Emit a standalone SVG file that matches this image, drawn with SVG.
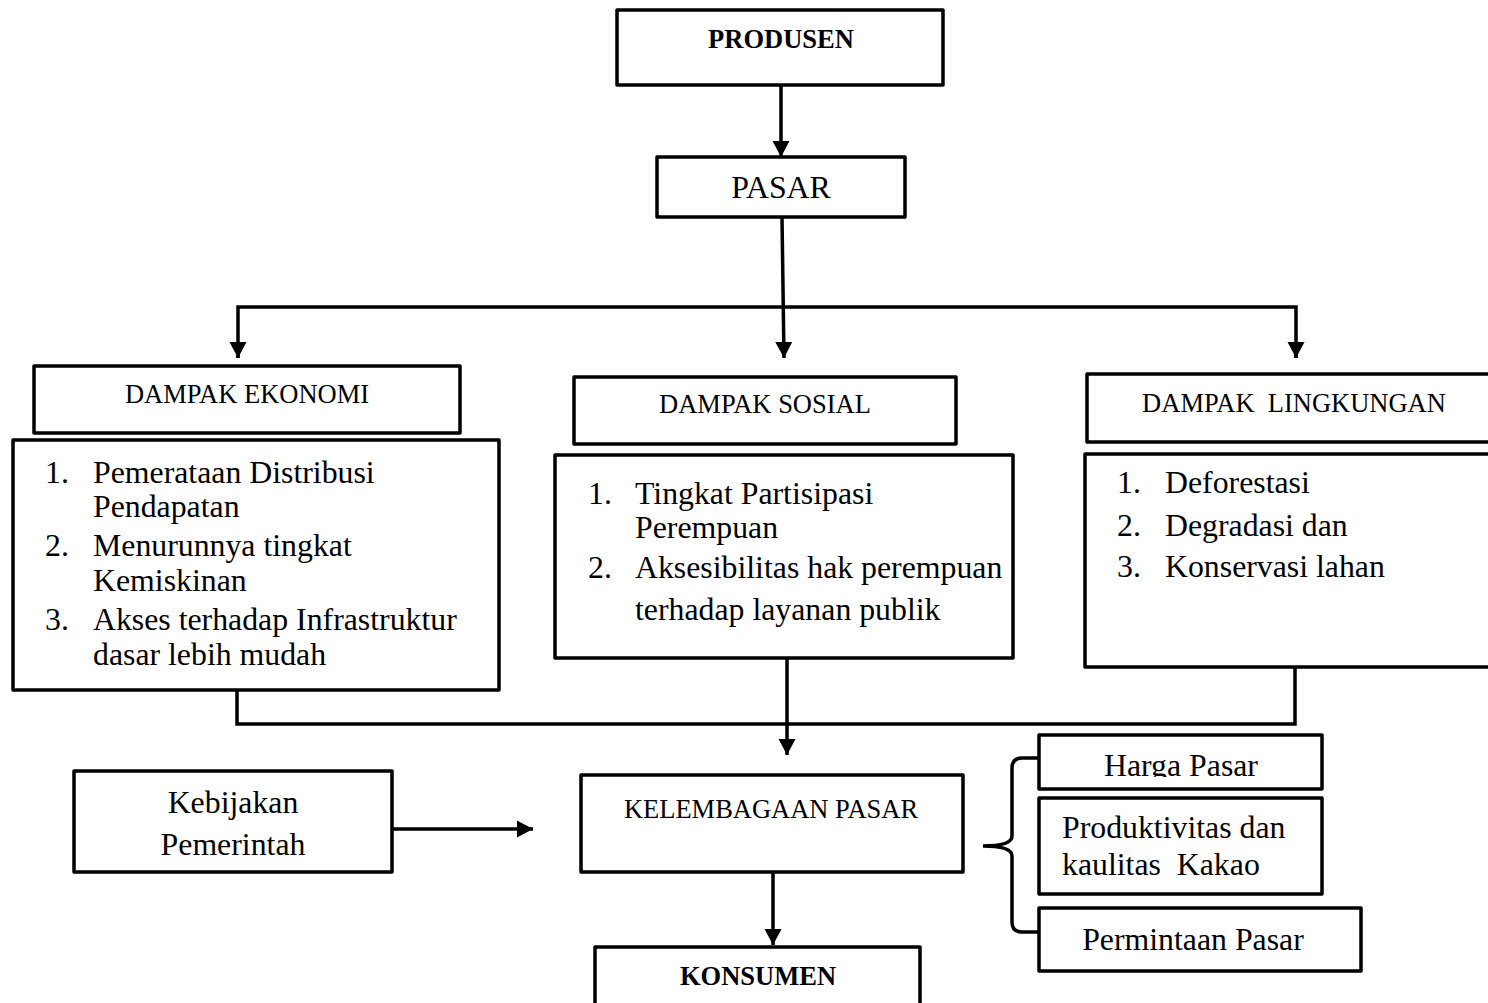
<svg xmlns="http://www.w3.org/2000/svg" width="1488" height="1003" viewBox="0 0 1488 1003">
<style>
.box{fill:#fff;stroke:#000;stroke-width:3.5;stroke-linejoin:round}
.ln{fill:none;stroke:#000;stroke-width:3.5}
.t{font-family:"Liberation Serif","Times New Roman",serif;fill:#000}
.s{font-size:26.5px}
.b{font-size:31.8px}
.bold{font-weight:bold}
.c{text-anchor:middle}
.pre{white-space:pre}
</style>
<defs>
<marker id="ah" markerUnits="userSpaceOnUse" markerWidth="18" markerHeight="18" viewBox="0 0 18 18" refX="16" refY="9" orient="auto">
<path d="M0,0.5 L16,9 L0,17.5 Z" fill="#000"/>
</marker>
<clipPath id="hclip"><rect x="1040" y="736" width="280" height="41"/></clipPath>
</defs>

<g id="connectors">
<line class="ln" x1="781" y1="85" x2="781" y2="157" marker-end="url(#ah)"/>
<line class="ln" x1="782" y1="217" x2="784" y2="358" marker-end="url(#ah)"/>
<polyline class="ln" points="238,358 238,307 1296,307 1296,358"/>
<line class="ln" x1="238" y1="343" x2="238" y2="358" marker-end="url(#ah)"/>
<line class="ln" x1="1296" y1="343" x2="1296" y2="358" marker-end="url(#ah)"/>
<polyline class="ln" points="237,675 237,724 1295,724 1295,653"/>
<line class="ln" x1="787" y1="658" x2="787" y2="755" marker-end="url(#ah)"/>
<line class="ln" x1="392" y1="829" x2="533" y2="829" marker-end="url(#ah)"/>
<line class="ln" x1="773" y1="872" x2="773" y2="945" marker-end="url(#ah)"/>
<path class="ln" d="M1038,758 L1022,758 Q1012,758 1012,768 L1012,836 Q1012,846 983,846 Q1012,846 1012,856 L1012,922 Q1012,932 1022,932 L1038,932"/>
</g>

<g id="produsen">
<rect class="box" x="617" y="10" width="326" height="75"/>
<text class="t s bold c" x="781" y="48">PRODUSEN</text>
</g>

<g id="pasar">
<rect class="box" x="657" y="157" width="248" height="60"/>
<text class="t b c" x="781" y="198">PASAR</text>
</g>

<g id="dampak-ekonomi">
<rect class="box" x="34" y="366" width="426" height="67"/>
<text class="t s c" x="247" y="403">DAMPAK EKONOMI</text>
</g>

<g id="dampak-sosial">
<rect class="box" x="574" y="377" width="382" height="67"/>
<text class="t s c" x="765" y="413">DAMPAK SOSIAL</text>
</g>

<g id="dampak-lingkungan">
<rect class="box" x="1087" y="374" width="410" height="68"/>
<text class="t s c pre" x="1294" y="412">DAMPAK  LINGKUNGAN</text>
</g>

<g id="list-ekonomi">
<rect class="box" x="13" y="440" width="486" height="250"/>
<text class="t b" x="45" y="483">1.</text>
<text class="t b" x="93" y="483">Pemerataan Distribusi</text>
<text class="t b" x="93" y="517">Pendapatan</text>
<text class="t b" x="45" y="556">2.</text>
<text class="t b" x="93" y="556">Menurunnya tingkat</text>
<text class="t b" x="93" y="591">Kemiskinan</text>
<text class="t b" x="45" y="630">3.</text>
<text class="t b" x="93" y="630">Akses terhadap Infrastruktur</text>
<text class="t b" x="93" y="665">dasar lebih mudah</text>
</g>

<g id="list-sosial">
<rect class="box" x="555" y="455" width="458" height="203"/>
<text class="t b" x="588" y="504">1.</text>
<text class="t b" x="635" y="504">Tingkat Partisipasi</text>
<text class="t b" x="635" y="538">Perempuan</text>
<text class="t b" x="588" y="578">2.</text>
<text class="t b" x="635" y="578">Aksesibilitas hak perempuan</text>
<text class="t b" x="635" y="620">terhadap layanan publik</text>
</g>

<g id="list-lingkungan">
<rect class="box" x="1085" y="454" width="412" height="213"/>
<text class="t b" x="1117" y="493">1.</text>
<text class="t b" x="1165" y="493">Deforestasi</text>
<text class="t b" x="1117" y="536">2.</text>
<text class="t b" x="1165" y="536">Degradasi dan</text>
<text class="t b" x="1117" y="577">3.</text>
<text class="t b" x="1165" y="577">Konservasi lahan</text>
</g>

<g id="kebijakan">
<rect class="box" x="74" y="771" width="318" height="101"/>
<text class="t b c" x="233" y="813">Kebijakan</text>
<text class="t b c" x="233" y="855">Pemerintah</text>
</g>

<g id="kelembagaan">
<rect class="box" x="581" y="775" width="382" height="97"/>
<text class="t s c" x="771" y="818">KELEMBAGAAN PASAR</text>
</g>

<g id="konsumen">
<rect class="box" x="595" y="947" width="325" height="70"/>
<text class="t s bold c" x="758" y="985">KONSUMEN</text>
</g>

<g id="harga-pasar">
<rect class="box" x="1039" y="735" width="283" height="54"/>
<text class="t b c" x="1181" y="776" clip-path="url(#hclip)">Harga Pasar</text>
</g>

<g id="produktivitas">
<rect class="box" x="1039" y="798" width="283" height="96"/>
<text class="t b" x="1062" y="838">Produktivitas dan</text>
<text class="t b pre" x="1062" y="875">kaulitas  Kakao</text>
</g>

<g id="permintaan">
<rect class="box" x="1039" y="908" width="322" height="63"/>
<text class="t b c" x="1193" y="950">Permintaan Pasar</text>
</g>
</svg>
